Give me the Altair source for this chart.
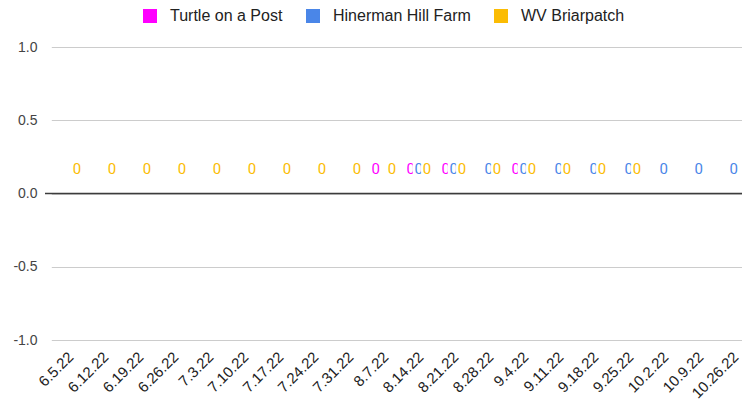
import altair as alt
import pandas as pd

dates = ["6.5.22", "6.12.22", "6.19.22", "6.26.22", "7.3.22", "7.10.22", "7.17.22",
         "7.24.22", "7.31.22", "8.7.22", "8.14.22", "8.21.22", "8.28.22", "9.4.22",
         "9.11.22", "9.18.22", "9.25.22", "10.2.22", "10.9.22", "10.26.22"]
series_names = ["Turtle on a Post", "Hinerman Hill Farm", "WV Briarpatch"]
turtle = [None] * 9 + [0, 0, 0, None, 0] + [None] * 6
hinerman = [None] * 10 + [0] * 10
briarpatch = [0] * 17 + [None] * 3
colors = ["#ff00ff", "#4a86e8", "#fbbc04"]
y_ticks = [-1.0, -0.5, 0.0, 0.5, 1.0]

rows = []
for name, vals in zip(series_names, [turtle, hinerman, briarpatch]):
    for d, v in zip(dates, vals):
        if v is not None:
            rows.append({"date": d, "series": name, "value": v, "label": str(v)})
df = pd.DataFrame(rows)

x_enc = alt.X(
    "date:N", sort=dates,
    scale=alt.Scale(domain=dates, range=[6.3, 706.3], paddingInner=0.31, paddingOuter=0.155),
    axis=alt.Axis(title=None, labelAngle=-45, labelAlign="right", labelBaseline="middle",
                  labelFont="Liberation Sans", labelFontSize=15, labelColor="#222222",
                  labelPadding=14, labelOffset=2, ticks=False, domain=False, grid=False),
)
xo_enc = alt.XOffset("series:N", sort=series_names,
                     scale=alt.Scale(domain=series_names, paddingInner=0, paddingOuter=0))
y_enc = alt.Y(
    "value:Q",
    scale=alt.Scale(domain=[-1, 1], nice=False, zero=False),
    axis=alt.Axis(title=None, values=y_ticks, format=".1f",
                  labelExpr="replace(datum.label, '\u2212', '-')",
                  labelFont="Liberation Sans", labelFontSize=14, labelColor="#444444",
                  labelPadding=8, ticks=False, domain=False,
                  grid=True, gridColor="#cccccc", gridWidth=1),
)

base = alt.Chart(df)

bars = base.mark_bar().encode(
    x=x_enc, xOffset=xo_enc, y=y_enc,
    color=alt.Color("series:N", sort=series_names,
                    scale=alt.Scale(domain=series_names, range=colors),
                    legend=alt.Legend(title=None, orient="none", direction="horizontal",
                                      legendX=97, legendY=-39,
                                      symbolType="square", symbolSize=196,
                                      symbolStrokeWidth=0, labelFont="Liberation Sans",
                                      labelFontSize=16, labelColor="#222222",
                                      labelOffset=12, columnPadding=22)),
)

zero_rule = alt.Chart(pd.DataFrame({"v": [0]})).mark_rule(
    color="#3c3c3c", strokeWidth=1.5).encode(y=alt.Y("v:Q"))

layers = [bars, zero_rule]
for name, col in zip(series_names, colors):
    sub = base.transform_filter(alt.datum.series == name)
    halo = sub.mark_text(font="Roboto", fontSize=15, baseline="alphabetic", dy=-20,
                         fill="white", stroke="white", strokeWidth=6).encode(
        x=x_enc, xOffset=xo_enc, y=y_enc, text="label:N")
    txt = sub.mark_text(font="Roboto", fontSize=15, baseline="alphabetic", dy=-20,
                        fill=col).encode(
        x=x_enc, xOffset=xo_enc, y=y_enc, text="label:N")
    layers += [halo, txt]

chart = alt.layer(*layers).properties(
    width=697, height=293,
    autosize=alt.AutoSizeParams(type="none"),
    padding={"left": 37, "top": 39, "right": 0, "bottom": 62},
).configure_view(stroke=None)

chart.save("out.html", embed_options={"renderer": "svg", "actions": False})
